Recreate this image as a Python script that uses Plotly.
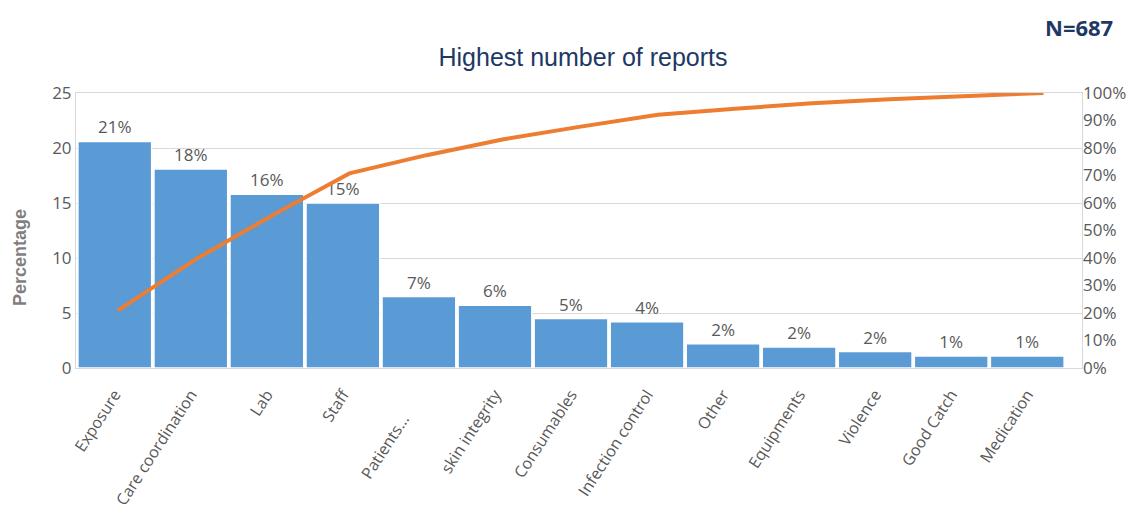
import numpy as np
import plotly.graph_objects as go

# Report categories and their share of all reports (%)
categories = [
    "Exposure", "Care coordination", "Lab", "Staff", "Patients...",
    "skin integrity", "Consumables", "Infection control", "Other",
    "Equipments", "Violence", "Good Catch", "Medication",
]
share_pct = [20.6, 18.1, 15.8, 15.0, 6.5, 5.7, 4.5, 4.2, 2.2, 1.9, 1.5, 1.1, 1.1]
total_reports = 687

# Cumulative share for the Pareto line (fraction of the total)
cumulative = np.cumsum(share_pct) / np.sum(share_pct)

# The truncated label sits a little lower than the others
tick_text = [c + "\u00a0" * 7 if c.endswith("...") else c for c in categories]

BLUE = "#5b9bd5"
ORANGE = "#ed7d31"
GRID = "#d9d9d9"
TICK = "#595959"
NAVY = "#203864"
FONT = "Open Sans"

fig = go.Figure()

fig.add_trace(go.Bar(
    x=categories,
    y=share_pct,
    marker=dict(color=BLUE, line=dict(color="white", width=1.5)),
    texttemplate="%{y:.0f}%",
    textposition="outside",
    textfont=dict(family=FONT, size=17, color=TICK),
    cliponaxis=False,
    hoverinfo="skip",
))

fig.add_trace(go.Scatter(
    x=categories,
    y=cumulative,
    mode="lines",
    line=dict(color=ORANGE, width=4),
    xaxis="x2",
    yaxis="y2",
    hoverinfo="skip",
))

fig.update_layout(
    width=1146,
    height=524,
    margin=dict(l=76, r=64, t=93, b=156),
    paper_bgcolor="white",
    plot_bgcolor="white",
    showlegend=False,
    bargap=0.03,
    title=dict(
        text="Highest number of reports",
        x=583 / 1146, xref="container", xanchor="center",
        y=1 - 57 / 524, yref="container", yanchor="middle",
        font=dict(family="Liberation Sans", size=25, color=NAVY),
    ),
    xaxis=dict(
        type="category",
        range=[-0.51, 12.72],
        tickvals=categories,
        ticktext=tick_text,
        tickangle=-57,
        tickfont=dict(family=FONT, size=16, color=TICK),
        ticklabelstandoff=10,
        showline=True, linecolor=GRID, linewidth=1, mirror=True,
        ticks="",
        showgrid=False,
    ),
    xaxis2=dict(
        type="category",
        overlaying="x",
        range=[-0.545, 12.5],
        visible=False,
    ),
    yaxis=dict(
        range=[0, 25],
        dtick=5,
        tickfont=dict(family=FONT, size=17, color=TICK),
        showgrid=True, gridcolor=GRID, gridwidth=1,
        zeroline=False,
        showline=True, linecolor=GRID, linewidth=1, mirror=True,
        ticks="",
    ),
    yaxis2=dict(
        overlaying="y",
        side="right",
        range=[0, 1],
        dtick=0.1,
        tickformat=".0%",
        tickfont=dict(family=FONT, size=17, color=TICK),
        showgrid=False,
        zeroline=False,
        ticks="",
    ),
    annotations=[
        dict(
            text="<b>Percentage</b>",
            textangle=-90,
            xref="paper", yref="paper",
            x=(20 - 76) / 1006, y=(368 - 258) / 275,
            xanchor="center", yanchor="middle",
            showarrow=False,
            font=dict(family="Liberation Sans", size=18, color="#7f7f7f"),
        ),
        dict(
            text=f"<b>N={total_reports}</b>",
            xref="paper", yref="paper",
            x=(1079 - 76) / 1006, y=(368 - 27) / 275,
            xanchor="center", yanchor="middle",
            showarrow=False,
            font=dict(family=FONT, size=22, color=NAVY),
        ),
    ],
)

fig.write_html("out.html")
